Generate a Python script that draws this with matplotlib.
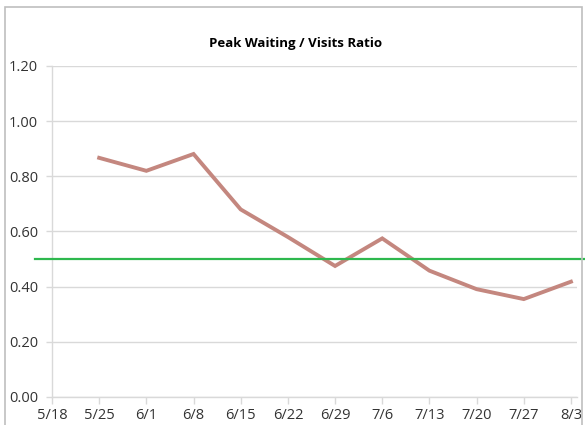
import datetime as dt
import matplotlib
matplotlib.use("Agg")
import matplotlib.pyplot as plt
from matplotlib.patches import Rectangle

# data
week_starts = ["2020-05-25", "2020-06-01", "2020-06-08", "2020-06-15", "2020-06-22",
               "2020-06-29", "2020-07-06", "2020-07-13", "2020-07-20", "2020-07-27",
               "2020-08-03"]
ratio = [0.867, 0.820, 0.881, 0.680, 0.580, 0.475, 0.575, 0.458, 0.391, 0.355, 0.418]
target = 0.5
y_ticks = [0.0, 0.2, 0.4, 0.6, 0.8, 1.0, 1.2]

dates = [dt.datetime.strptime(d, "%Y-%m-%d") for d in week_starts]
first_tick = dt.datetime(2020, 5, 18)
tick_dates = [first_tick + dt.timedelta(days=7 * i) for i in range(12)]

plt.rcParams["font.family"] = ["Open Sans", "DejaVu Sans"]

fig = plt.figure(figsize=(5.85, 4.25), dpi=100)
ax = fig.add_axes([52 / 585, 1 - 397 / 425, 525 / 585, 331 / 425])

# chart outer border (cropped at the bottom in the original)
fig.patches.append(Rectangle((5 / 585, -0.02), 577 / 585, 1 - 7 / 425 + 0.02,
                             transform=fig.transFigure, fill=False,
                             edgecolor="#BFBFBF", linewidth=1.2))

ax.plot(dates, ratio, color="#C4877F", linewidth=2.8, solid_joinstyle="miter", zorder=3)

# target line runs past both ends of the plot area
trans = ax.get_yaxis_transform()
ax.plot([-17 / 525, 533 / 525], [target, target], color="#2EB84E", linewidth=1.6,
        transform=trans, clip_on=False, zorder=4)

ax.set_ylim(0, 1.2)
ax.set_yticks(y_ticks)
ax.set_yticklabels([f"{v:.2f}" for v in y_ticks])
ax.set_xlim(first_tick, tick_dates[-1] + dt.timedelta(days=0.9))
ax.set_xticks(tick_dates)
ax.set_xticklabels([f"{d.month}/{d.day}" for d in tick_dates])

ax.grid(axis="y", color="#D9D9D9", linewidth=1)
ax.set_axisbelow(True)
for side in ["top", "right"]:
    ax.spines[side].set_visible(False)
for side in ["left", "bottom"]:
    ax.spines[side].set_color("#D9D9D9")
    ax.spines[side].set_linewidth(1)
ax.tick_params(axis="both", colors="#D9D9D9", labelcolor="#333333", labelsize=10.5, length=5, width=1)
ax.tick_params(axis="y", length=4, pad=6)
ax.tick_params(axis="x", pad=3)

fig.text(296 / 585, 1 - 43 / 425, "Peak Waiting / Visits Ratio", fontsize=9.5,
         fontweight="bold", color="#000000", ha="center", va="center")

fig.savefig("out.png", dpi=100, facecolor="white")
